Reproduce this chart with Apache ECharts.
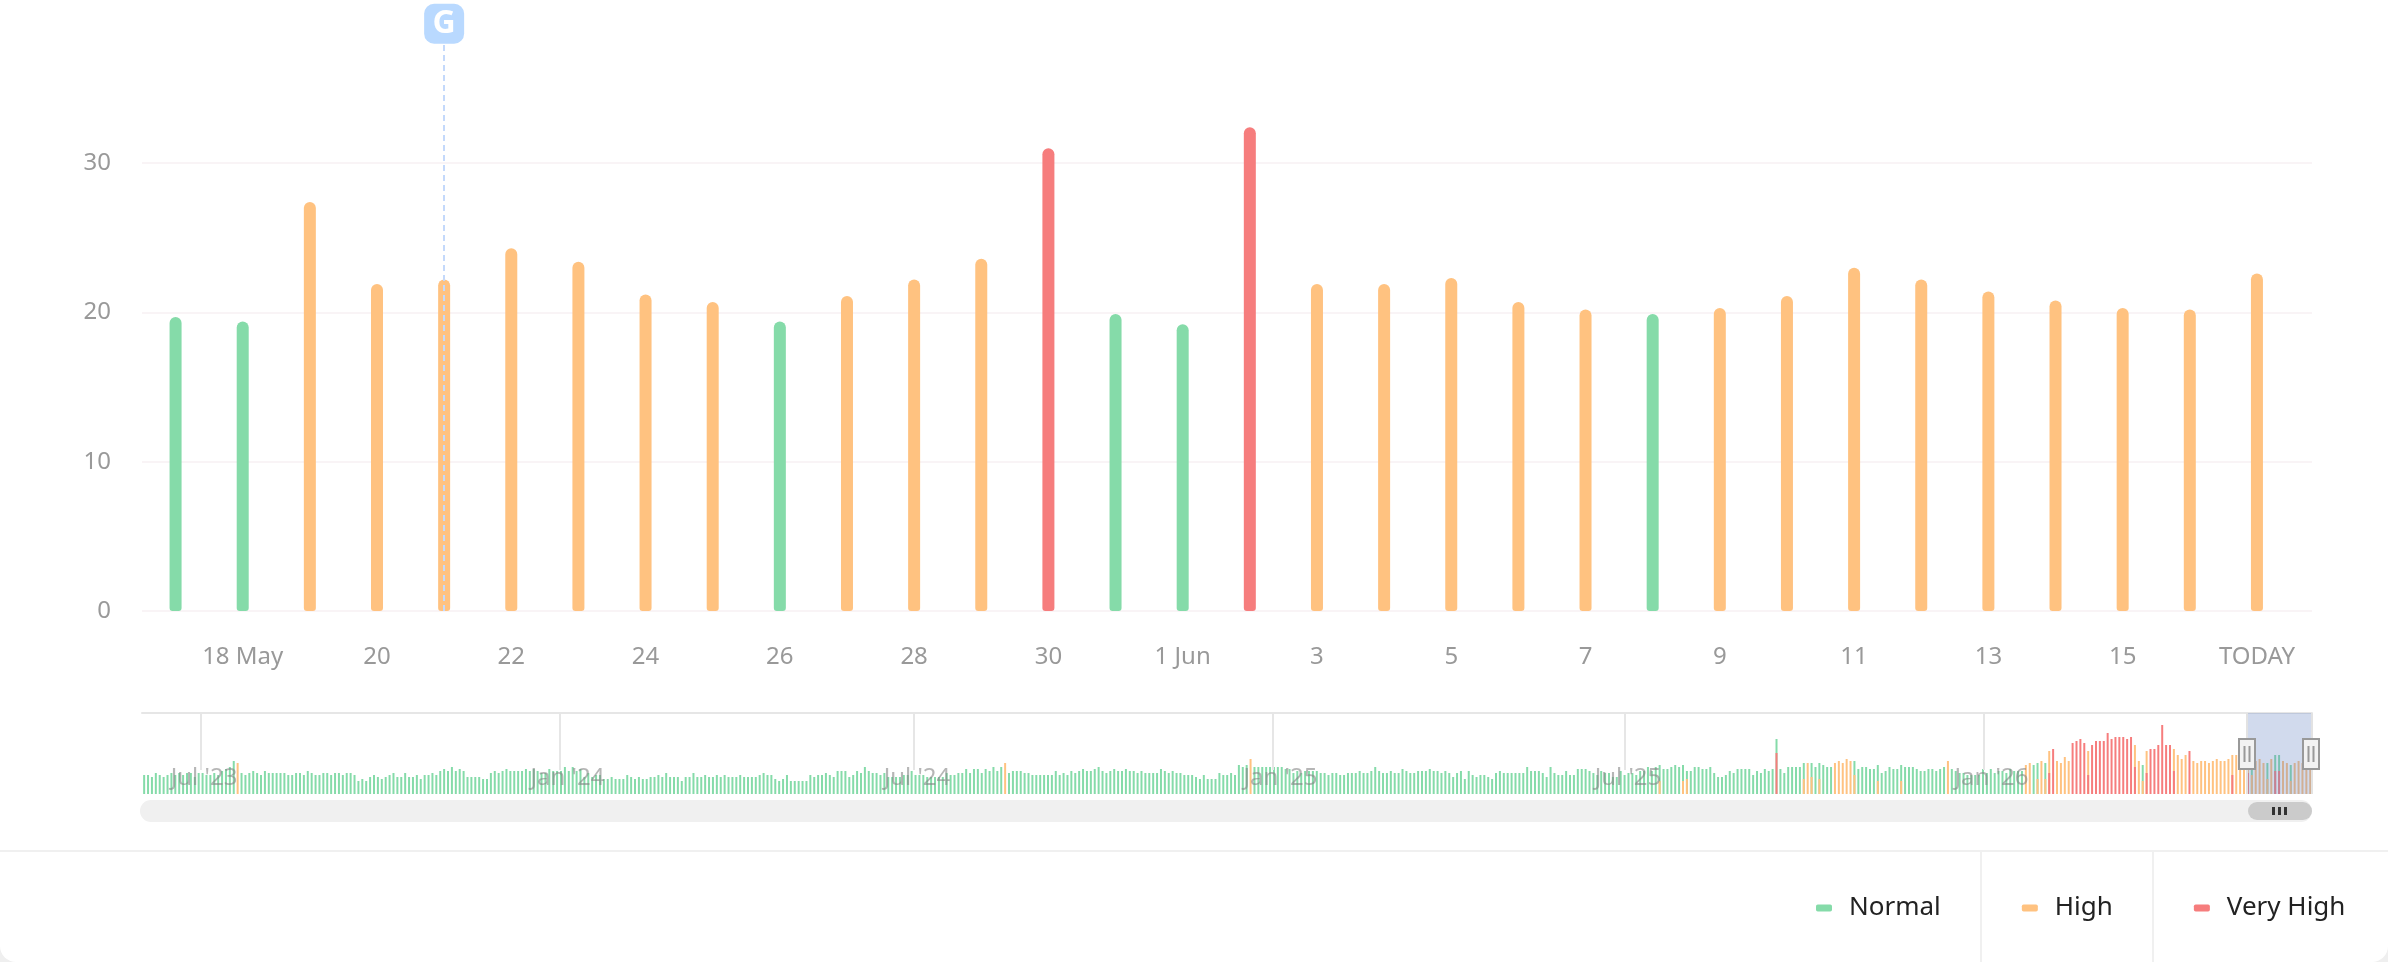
<!DOCTYPE html>
<html>
<head>
<meta charset="utf-8">
<title>Daily readings</title>
<script src="https://cdn.jsdelivr.net/npm/echarts@6/dist/echarts.min.js"></script>
<style>
  html, body { margin: 0; padding: 0; background: #efefef; overflow: hidden; }
  #chart { width: 2388px; height: 962px; background: #fff; border-radius: 0 0 16px 16px; overflow: hidden; }
</style>
</head>
<body>
<div id="chart"></div>
<script>
// Daily readings for the selected window, 17 May to today.
const dayLabels = ['', '18 May', '', '20', '', '22', '', '24', '', '26', '', '28', '', '30', '', '1 Jun',
  '', '3', '', '5', '', '7', '', '9', '', '11', '', '13', '', '15', '', 'TODAY'];
const dayValues = [19.7, 19.4, 27.4, 21.9, 22.2, 24.3, 23.4, 21.2, 20.7, 19.4, 21.1, 22.2, 23.6, 31.0, 19.9, 19.2,
  32.4, 21.9, 21.9, 22.3, 20.7, 20.2, 19.9, 20.3, 21.1, 23.0, 22.2, 21.4, 20.8, 20.3, 20.2, 22.6];
const dayTicks = [1, 3, 5, 7, 9, 11, 13, 15, 17, 19, 21, 23, 25, 27, 29, 31];
const valueTicks = [0, 10, 20, 30];
const annotationDay = 4;

// Overview strip: one group every two days, with the days counted from 1 Jul 2023.
const navNormal = [
  19,19,17,21,19,17,19,21,19,21,19,21,21,17,21,21,19,19,21,19,23,25,27,33,0,
  21,19,21,23,21,19,23,21,21,21,21,21,19,19,21,21,19,23,21,19,19,21,21,19,21,21,19,21,21,19,
  13,15,13,17,19,17,15,17,19,21,17,17,21,17,17,19,15,19,19,21,19,23,25,23,27,23,25,23,17,17,17,17,15,15,21,
  23,21,23,25,23,23,23,23,25,23,25,23,21,21,25,23,23,23,27,23,27,23,25,
  17,21,17,19,19,15,15,17,15,15,15,19,17,15,17,15,15,17,17,19,
  17,21,17,17,17,13,17,17,21,17,17,19,17,17,19,17,19,17,17,17,19,17,17,17,17,19,21,19,19,15,13,15,19,13,13,13,13,13,19,17,19,19,21,19,17,23,23,23,17,19,23,21,27,
  23,21,21,19,21,17,17,17,17,19,19,23,19,19,19,17,17,17,17,17,21,19,19,21,21,25,21,25,25,21,25,23,27,23,27,0,
  21,23,23,23,21,21,19,19,19,19,19,19,23,19,21,19,23,21,23,25,23,23,25,27,23,21,23,25,23,23,25,23,23,21,23,21,21,21,21,25,23,21,23,21,
  21,19,19,19,17,15,19,15,15,15,21,19,19,21,19,29,27,29,0,27,27,27,27,27,27,27,27,25,25,21,23,21,23,23,23,23,21,
  21,19,21,21,19,19,21,21,21,23,21,21,23,27,23,21,21,23,21,21,25,23,21,21,23,23,23,25,23,23,21,23,21,17,21,23,15,23,19,17,19,19,17,15,21,23,21,21,21,21,21,21,27,23,23,23,21,17,27,21,19,19,23,19,19,25,25,25,23,21,19,23,21,21,17,17,23,19,21,21,19,23,23,27,23,27,29,25,25,27,29,27,29,23,23,27,
  27,25,25,27,21,17,17,19,23,21,25,25,25,25,19,23,21,25,23,25,55,25,21,27,27,27,
  27,31,0,31,27,31,29,27,27,0,0,0,0,0,33,25,27,27,25,25,29,21,23,27,25,25,29,27,27,27,25,23,23,25,25,23,25,27,0,
  25,23,21,21,19,19,19,19,25,21,25,21,23,23,21,25,23,23,23,0,0,29,31,0,31,
  0,0,0,0,0,0,0,0,0,0,0,0,0,0,0,0,0,0,0,0,0,0,0,0,29,
  0,0,0,0,0,0,0,0,0,0,0,0,0,0,0,0,0,0,0,0,0,0,0,0,0,0,0,25,0,0,0,31,0,39,39,0,0,29,0,0,0,0,0
];
const navHigh = [[24,31],[221,31],[284,35],[389,13],[395,13],[396,15],
  [426,15],[427,31],[428,17],[430,15],[434,31],[435,33],[436,31],[437,35],[438,33],[439,19],[445,13],[451,13],[463,33],
  [483,29],[484,31],[486,15],[487,33],[488,15],[489,43],[491,33],[492,31],[493,37],[494,33],[499,43],
  [511,49],[512,33],[513,13],[514,43],[521,45],[522,39],[523,35],[524,39],[526,33],[527,31],[528,33],[529,33],[530,31],
  [531,33],[532,35],[533,33],[534,33],[535,35],[536,39],[537,39],[538,33],[539,33],[540,33],[541,19],[542,33],[543,35],
  [544,31],[545,15],[546,35],[549,33],[550,31],[551,13],[552,31],[553,33],[554,31],[555,27],[556,25]];
const navVeryHigh = [[419,41],[489,21],[490,45],[495,51],[496,53],[497,55],[498,51],[499,19],[500,49],[501,53],[502,53],
  [503,53],[504,61],[505,55],[506,57],[507,57],[508,57],[509,55],[510,57],[511,27],[514,21],[515,45],[516,45],[517,49],
  [518,69],[519,49],[520,49],[521,23],[525,43],[536,19],[540,21],[547,23],[548,23]];
const navFirstDay = -29.2;
const navDaysPerGroup = 2;
const navTickDays = [0, 184, 366, 550, 731, 915];
const navTickLabels = ["Jul '23", "Jan '24", "Jul '24", "Jan '25", "Jul '25", "Jan '26"];

const levelNames = ['Normal', 'High', 'Very High'];
const levelColors = ['#85dba9', '#ffc280', '#f67d7d'];

const FONT = '"Noto Sans", sans-serif';
const NAV_LABEL = 'rgba(130,130,130,0.58)';
const navDay = (i) => navFirstDay + navDaysPerGroup * i;
const levelOf = (v) => (v < 20 ? 0 : v < 30 ? 1 : 2);

function daySeries(level) {
  const data = [];
  dayValues.forEach((v, i) => { if (levelOf(v) === level) data.push([i, v]); });
  const s = {
    name: levelNames[level], type: 'bar', xAxisIndex: 0, yAxisIndex: 0,
    barWidth: 12, barGap: '-100%', data,
    itemStyle: { color: levelColors[level], borderRadius: [6, 6, 3, 3] }
  };
  if (level === 1) {
    // Dated annotation: a pin at the top of the plot with a dashed drop line.
    s.markLine = {
      silent: true, symbol: 'none', label: { show: false }, animation: false,
      lineStyle: { color: '#c4d9fb', type: [6, 4], width: 2 },
      data: [{ xAxis: annotationDay }]
    };
    s.markPoint = {
      silent: true, animation: false,
      data: [{
        coord: [annotationDay, 38], symbol: 'roundRect', symbolSize: 40, symbolOffset: [0, -20],
        itemStyle: { color: '#b9d9ff' },
        label: { show: true, formatter: 'G', color: '#fff', fontFamily: FONT, fontWeight: 'bold', fontSize: 32, position: 'inside' }
      }]
    };
  }
  return s;
}

function navSeries(level, pairs) {
  return {
    name: levelNames[level], type: 'bar', xAxisIndex: 1, yAxisIndex: 1,
    barWidth: 2, barGap: '-100%', z: 2 + level, data: pairs,
    itemStyle: { color: levelColors[level] }
  };
}

const navNormalPairs = navNormal.map((h, i) => [navDay(i), h]).filter((p) => p[1] > 0);
const navHighPairs = navHigh.map((p) => [navDay(p[0]), p[1]]);
const navVeryHighPairs = navVeryHigh.map((p) => [navDay(p[0]), p[1]]);

const chrome = (shape, style, z) => ({ type: 'rect', shape, style, z: z || 100, silent: true });
const rule = (x1, y1, x2, y2, stroke, lineWidth, z) => ({
  type: 'line', shape: { x1, y1, x2, y2 }, style: { stroke, lineWidth }, z: z || 100, silent: true
});

const graphicElements = [
  // Scrollbar under the overview strip
  chrome({ x: 140, y: 800, width: 2172, height: 22, r: 11 }, { fill: '#f0f0f0' }),
  chrome({ x: 2248, y: 802, width: 64, height: 18, r: 9 }, { fill: '#cbcbcb' }, 101),
  chrome({ x: 2272, y: 807, width: 3, height: 8 }, { fill: '#333' }, 102),
  chrome({ x: 2278, y: 807, width: 3, height: 8 }, { fill: '#333' }, 102),
  chrome({ x: 2284, y: 807, width: 3, height: 8 }, { fill: '#333' }, 102),
  // Selected range
  chrome({ x: 2247, y: 713, width: 65, height: 81 }, { fill: 'rgba(102,133,194,0.3)' }),
  rule(2247, 713, 2247, 794, '#e2e2e2', 2),
  rule(2312, 713, 2312, 794, '#e2e2e2', 2),
  chrome({ x: 2239, y: 739, width: 16, height: 30 }, { fill: '#f2f2f2', stroke: '#999', lineWidth: 2 }, 103),
  chrome({ x: 2303, y: 739, width: 16, height: 30 }, { fill: '#f2f2f2', stroke: '#999', lineWidth: 2 }, 103),
  rule(2244.5, 746, 2244.5, 762, '#999', 2, 104), rule(2249.5, 746, 2249.5, 762, '#999', 2, 104),
  rule(2308.5, 746, 2308.5, 762, '#999', 2, 104), rule(2313.5, 746, 2313.5, 762, '#999', 2, 104),
  // Legend dividers
  rule(0, 851, 2388, 851, '#f0f0f0', 2),
  rule(1981, 851, 1981, 962, '#f0f0f0', 2),
  rule(2153, 851, 2153, 962, '#f0f0f0', 2)
];

const chart = echarts.init(document.getElementById('chart'), null, { renderer: 'canvas' });
chart.setOption({
  animation: false,
  backgroundColor: 'transparent',
  grid: [
    { left: 142, width: 2170, top: 43.7, height: 567.3 },
    { left: 142, width: 2170, top: 713, height: 81 }
  ],
  xAxis: [
    {
      type: 'value', gridIndex: 0, min: -0.5, max: 31.82,
      axisLine: { show: false }, splitLine: { show: false },
      axisTick: { show: false, customValues: dayTicks },
      axisLabel: {
        customValues: dayTicks, formatter: (v) => dayLabels[v], margin: 34,
        color: '#999', fontFamily: FONT, fontSize: 24, hideOverlap: false, showMinLabel: true, showMaxLabel: true
      }
    },
    {
      type: 'value', gridIndex: 1, position: 'top', min: -30.3, max: 1083.7, z: 6,
      axisLine: { show: true, onZero: false, lineStyle: { color: '#e6e6e6', width: 2 } },
      splitLine: { show: false },
      axisTick: { show: true, inside: true, length: 57, customValues: navTickDays, lineStyle: { color: '#e6e6e6', width: 2 } },
      axisLabel: {
        inside: true, customValues: navTickDays, margin: 53,
        formatter: (v) => {
          const text = navTickLabels[navTickDays.indexOf(v)];
          return (text.startsWith('Jan') ? '{jan|' : '{jul|') + text + '}';
        },
        rich: {
          jan: { color: NAV_LABEL, fontFamily: FONT, fontSize: 24, padding: [0, 0, 0, 16] },
          jul: { color: NAV_LABEL, fontFamily: FONT, fontSize: 24, padding: [0, 0, 0, 6] }
        }
      }
    }
  ],
  yAxis: [
    {
      type: 'value', gridIndex: 0, min: 0, max: 38, interval: 10,
      axisLine: { show: false }, axisTick: { show: false, customValues: valueTicks },
      splitLine: { lineStyle: { color: '#f9f4f6', width: 2 } },
      axisLabel: {
        customValues: valueTicks, margin: 31, color: '#999', fontFamily: FONT, fontSize: 24
      }
    },
    { type: 'value', gridIndex: 1, min: 0, max: 81, show: false }
  ],
  legend: {
    left: 1811, top: 890, itemWidth: 16, itemHeight: 7, itemGap: 81, icon: 'roundRect',
    selectedMode: false, data: levelNames,
    textStyle: { color: '#222', fontFamily: FONT, fontSize: 26, padding: [0, 0, 0, 12] }
  },
  series: [
    daySeries(0), daySeries(1), daySeries(2),
    navSeries(0, navNormalPairs), navSeries(1, navHighPairs), navSeries(2, navVeryHighPairs)
  ],
  graphic: graphicElements
});
</script>
</body>
</html>
